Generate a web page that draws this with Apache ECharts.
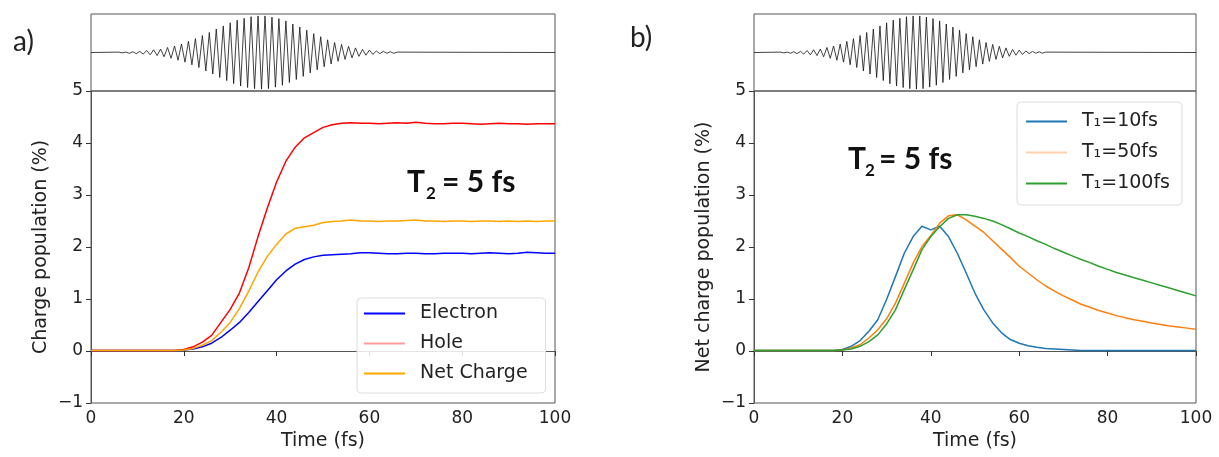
<!DOCTYPE html>
<html><head><meta charset="utf-8">
<script src="https://cdn.jsdelivr.net/npm/echarts@6/dist/echarts.min.js"></script>
<style>html,body{margin:0;padding:0;background:#fff}#c{width:1219px;height:457px}</style>
</head><body><div id="c"></div>
<script>
// ---- data ----
const time = [0,2,4,6,8,10,12,14,16,18,20,22,24,26,28,30,32,34,36,38,40,42,44,46,48,50,52,54,56,58,60,62,64,66,68,70,72,74,76,78,80,82,84,86,88,90,92,94,96,98,100];
const electron = [0.01,0.01,0.01,0.01,0.01,0.01,0.01,0.01,0.01,0.01,0.02,0.04,0.08,0.15,0.26,0.40,0.55,0.74,0.95,1.16,1.37,1.54,1.67,1.76,1.81,1.84,1.85,1.86,1.87,1.89,1.89,1.88,1.87,1.87,1.88,1.88,1.87,1.87,1.88,1.88,1.88,1.87,1.88,1.89,1.88,1.87,1.88,1.90,1.89,1.88,1.88];
const hole = [0.01,0.01,0.01,0.01,0.01,0.01,0.01,0.01,0.01,0.01,0.03,0.08,0.17,0.30,0.55,0.80,1.12,1.60,2.20,2.75,3.25,3.65,3.92,4.10,4.20,4.30,4.35,4.38,4.39,4.38,4.38,4.37,4.38,4.39,4.38,4.40,4.38,4.37,4.37,4.38,4.38,4.37,4.36,4.37,4.38,4.37,4.37,4.36,4.37,4.37,4.37];
const netCharge = [0.01,0.01,0.01,0.01,0.01,0.01,0.01,0.01,0.01,0.01,0.02,0.05,0.11,0.20,0.36,0.55,0.82,1.15,1.52,1.82,2.05,2.25,2.36,2.39,2.42,2.47,2.49,2.50,2.52,2.50,2.50,2.49,2.50,2.50,2.51,2.52,2.50,2.50,2.49,2.50,2.50,2.49,2.50,2.50,2.49,2.50,2.49,2.50,2.49,2.50,2.50];
const t1_10 = [0.01,0.01,0.01,0.01,0.01,0.01,0.01,0.01,0.01,0.01,0.03,0.09,0.20,0.38,0.60,0.99,1.43,1.88,2.20,2.40,2.33,2.40,2.20,1.88,1.50,1.11,0.79,0.54,0.35,0.22,0.15,0.10,0.07,0.05,0.04,0.03,0.02,0.01,0.01,0.01,0.01,0.01,0.01,0.01,0.01,0.01,0.01,0.01,0.01,0.01,0.01];
const t1_50 = [0.01,0.01,0.01,0.01,0.01,0.01,0.01,0.01,0.01,0.01,0.02,0.06,0.12,0.25,0.41,0.62,0.92,1.30,1.69,2.01,2.22,2.46,2.60,2.62,2.52,2.40,2.28,2.12,1.96,1.80,1.63,1.50,1.37,1.25,1.15,1.06,0.98,0.90,0.84,0.78,0.73,0.68,0.64,0.60,0.57,0.54,0.51,0.48,0.46,0.44,0.42];
const t1_100 = [0.01,0.01,0.01,0.01,0.01,0.01,0.01,0.01,0.01,0.01,0.02,0.04,0.09,0.18,0.31,0.52,0.79,1.18,1.56,1.95,2.20,2.39,2.55,2.62,2.62,2.59,2.55,2.50,2.43,2.35,2.27,2.20,2.12,2.05,1.97,1.90,1.83,1.76,1.70,1.63,1.57,1.51,1.46,1.41,1.36,1.31,1.26,1.21,1.16,1.11,1.06];
const pulseTime = [0,6,6.75,7.5,8.25,9,9.75,10.5,11.25,12,12.75,13.5,14.25,15,15.75,16.5,17.25,18,18.75,19.5,20.25,21,21.75,22.5,23.25,24,24.75,25.5,26.25,27,27.75,28.5,29.25,30,30.75,31.5,32.25,33,33.75,34.5,35.25,36,36.75,37.5,38.25,39,39.75,40.5,41.25,42,42.75,43.5,44.25,45,45.75,46.5,47.25,48,48.75,49.5,50.25,51,51.75,52.5,53.25,54,54.75,55.5,56.25,57,57.75,58.5,59.25,60,60.75,61.5,62.25,63,63.75,64.5,65.25,66,100];
const pulseField = [0,0.01,-0.01,0.01,-0.02,0.02,-0.03,0.03,-0.04,0.05,-0.06,0.07,-0.08,0.09,-0.11,0.13,-0.15,0.17,-0.20,0.22,-0.25,0.29,-0.32,0.36,-0.39,0.44,-0.48,0.52,-0.56,0.61,-0.65,0.69,-0.73,0.77,-0.81,0.84,-0.87,0.89,-0.91,0.93,-0.94,0.95,-0.95,0.95,-0.94,0.92,-0.90,0.88,-0.85,0.82,-0.78,0.74,-0.70,0.66,-0.62,0.58,-0.53,0.49,-0.45,0.41,-0.37,0.33,-0.30,0.26,-0.23,0.21,-0.18,0.16,-0.14,0.12,-0.10,0.08,-0.07,0.06,-0.05,0.04,-0.03,0.03,-0.02,0.02,-0.02,0.01,0];
const xTicks = {min: 0, max: 100, interval: 20};
const yTicks = {min: -1, max: 5, interval: 1};

// ---- chart ----
const FONT = 'DejaVu Sans';
const TXT = '#222';
const zip = (t, v) => t.map((x, i) => [x, v[i]]);
const chart = echarts.init(document.getElementById('c'));

const grids = [
  {left: 91, top: 14, width: 464, height: 77},
  {left: 91, top: 91, width: 464, height: 312},
  {left: 754, top: 14, width: 442, height: 77},
  {left: 754, top: 91, width: 442, height: 312}
].map(g => Object.assign({show: true, borderColor: '#555', borderWidth: 1, backgroundColor: 'transparent'}, g));

function pulseX(gi) {
  return {type: 'value', gridIndex: gi, min: 0, max: 100, show: true,
    axisLine: {show: false}, axisTick: {show: false}, axisLabel: {show: false}, splitLine: {show: false}};
}
function pulseY(gi) {
  return {type: 'value', gridIndex: gi, min: -1, max: 1, show: true,
    axisLine: {show: false}, axisTick: {show: false}, axisLabel: {show: false}, splitLine: {show: false}};
}
function mainX(gi) {
  return {type: 'value', gridIndex: gi, min: xTicks.min, max: xTicks.max, interval: xTicks.interval,
    name: 'Time (fs)', nameLocation: 'middle', nameGap: 29,
    nameTextStyle: {fontFamily: FONT, fontSize: 19, color: TXT},
    axisLine: {show: true, lineStyle: {color: '#555', width: 1}},
    axisTick: {show: true, length: 5, lineStyle: {color: '#333'}},
    axisLabel: {fontFamily: FONT, fontSize: 17, color: TXT, margin: 7},
    splitLine: {show: false}};
}
function mainY(gi, name) {
  return {type: 'value', gridIndex: gi, min: yTicks.min, max: yTicks.max, interval: yTicks.interval,
    name: name, nameLocation: 'middle', nameGap: 40,
    nameTextStyle: {fontFamily: FONT, fontSize: 19, color: TXT},
    axisLine: {show: true, lineStyle: {color: '#555', width: 1}},
    axisTick: {show: true, length: 5, lineStyle: {color: '#333'}},
    axisLabel: {fontFamily: FONT, fontSize: 17, color: TXT, margin: 8,
      formatter: v => v < 0 ? '\u2212' + Math.abs(v) : String(v)},
    splitLine: {show: false}};
}
function line(name, xi, data, color, width) {
  return {type: 'line', name: name, xAxisIndex: xi, yAxisIndex: xi, data: data,
    showSymbol: false, symbol: 'none', smooth: false, animation: false,
    lineStyle: {color: color, width: width}, itemStyle: {color: color}, z: 3};
}
const legendBase = {
  orient: 'vertical', icon: 'rect', itemWidth: 41, itemHeight: 2,
  borderColor: '#ddd', borderWidth: 1, borderRadius: 4, backgroundColor: 'rgba(255,255,255,0.85)',
  textStyle: {fontFamily: FONT, fontSize: 19, color: TXT, padding: [0, 0, 0, 10]},
  selectedMode: false
};

chart.setOption({
  animation: false,
  grid: grids,
  xAxis: [pulseX(0), mainX(1), pulseX(2), mainX(3)],
  yAxis: [pulseY(0), mainY(1, 'Charge population (%)'), pulseY(2), mainY(3, 'Net charge population (%)')],
  legend: [
    Object.assign({}, legendBase, {left: 357, top: 298, itemGap: 11, padding: [6, 18, 10, 7],
      data: [{name: 'Electron'}, {name: 'Hole', itemStyle: {color: '#ff9b9b'}}, {name: 'Net Charge'}]}),
    Object.assign({}, legendBase, {left: 1017, top: 102, itemGap: 12, padding: [10, 12, 12, 9],
      data: [{name: 'T\u2081=10fs'}, {name: 'T\u2081=50fs', itemStyle: {color: '#ffcfae'}}, {name: 'T\u2081=100fs'}]})
  ],
  series: [
    line('pulseA', 0, zip(pulseTime, pulseField), '#111', 0.8),
    line('Electron', 1, zip(time, electron), '#0000ff', 1.5),
    line('Hole', 1, zip(time, hole), '#ff0000', 1.5),
    line('Net Charge', 1, zip(time, netCharge), '#ffa500', 1.5),
    line('pulseB', 2, zip(pulseTime, pulseField), '#111', 0.8),
    line('T\u2081=10fs', 3, zip(time, t1_10), '#1f77b4', 1.5),
    line('T\u2081=50fs', 3, zip(time, t1_50), '#ff7f0e', 1.5),
    line('T\u2081=100fs', 3, zip(time, t1_100), '#2ca02c', 1.5)
  ],
  graphic: [
    {type: 'text', left: 13, top: 28, style: {text: 'a)', font: '28px Lato', fill: '#222'}},
    {type: 'text', left: 630, top: 24, style: {text: 'b)', font: '28px Lato', fill: '#222'}},
    {type: 'text', x: 407, y: 182, style: {text: 'T', font: 'bold 30px Lato', fill: '#111', verticalAlign: 'middle', align: 'left'}},
    {type: 'text', x: 426, y: 194, style: {text: '2', font: 'bold 17px Lato', fill: '#111', verticalAlign: 'middle', align: 'left'}},
    {type: 'text', x: 442, y: 182, style: {text: '= 5 fs', font: 'bold 30px Lato', fill: '#111', verticalAlign: 'middle', align: 'left'}},
    {type: 'text', x: 848, y: 159, style: {text: 'T', font: 'bold 30px Lato', fill: '#111', verticalAlign: 'middle', align: 'left'}},
    {type: 'text', x: 865, y: 171, style: {text: '2', font: 'bold 17px Lato', fill: '#111', verticalAlign: 'middle', align: 'left'}},
    {type: 'text', x: 879, y: 159, style: {text: '= 5 fs', font: 'bold 30px Lato', fill: '#111', verticalAlign: 'middle', align: 'left'}}
  ]
});
</script></body></html>
